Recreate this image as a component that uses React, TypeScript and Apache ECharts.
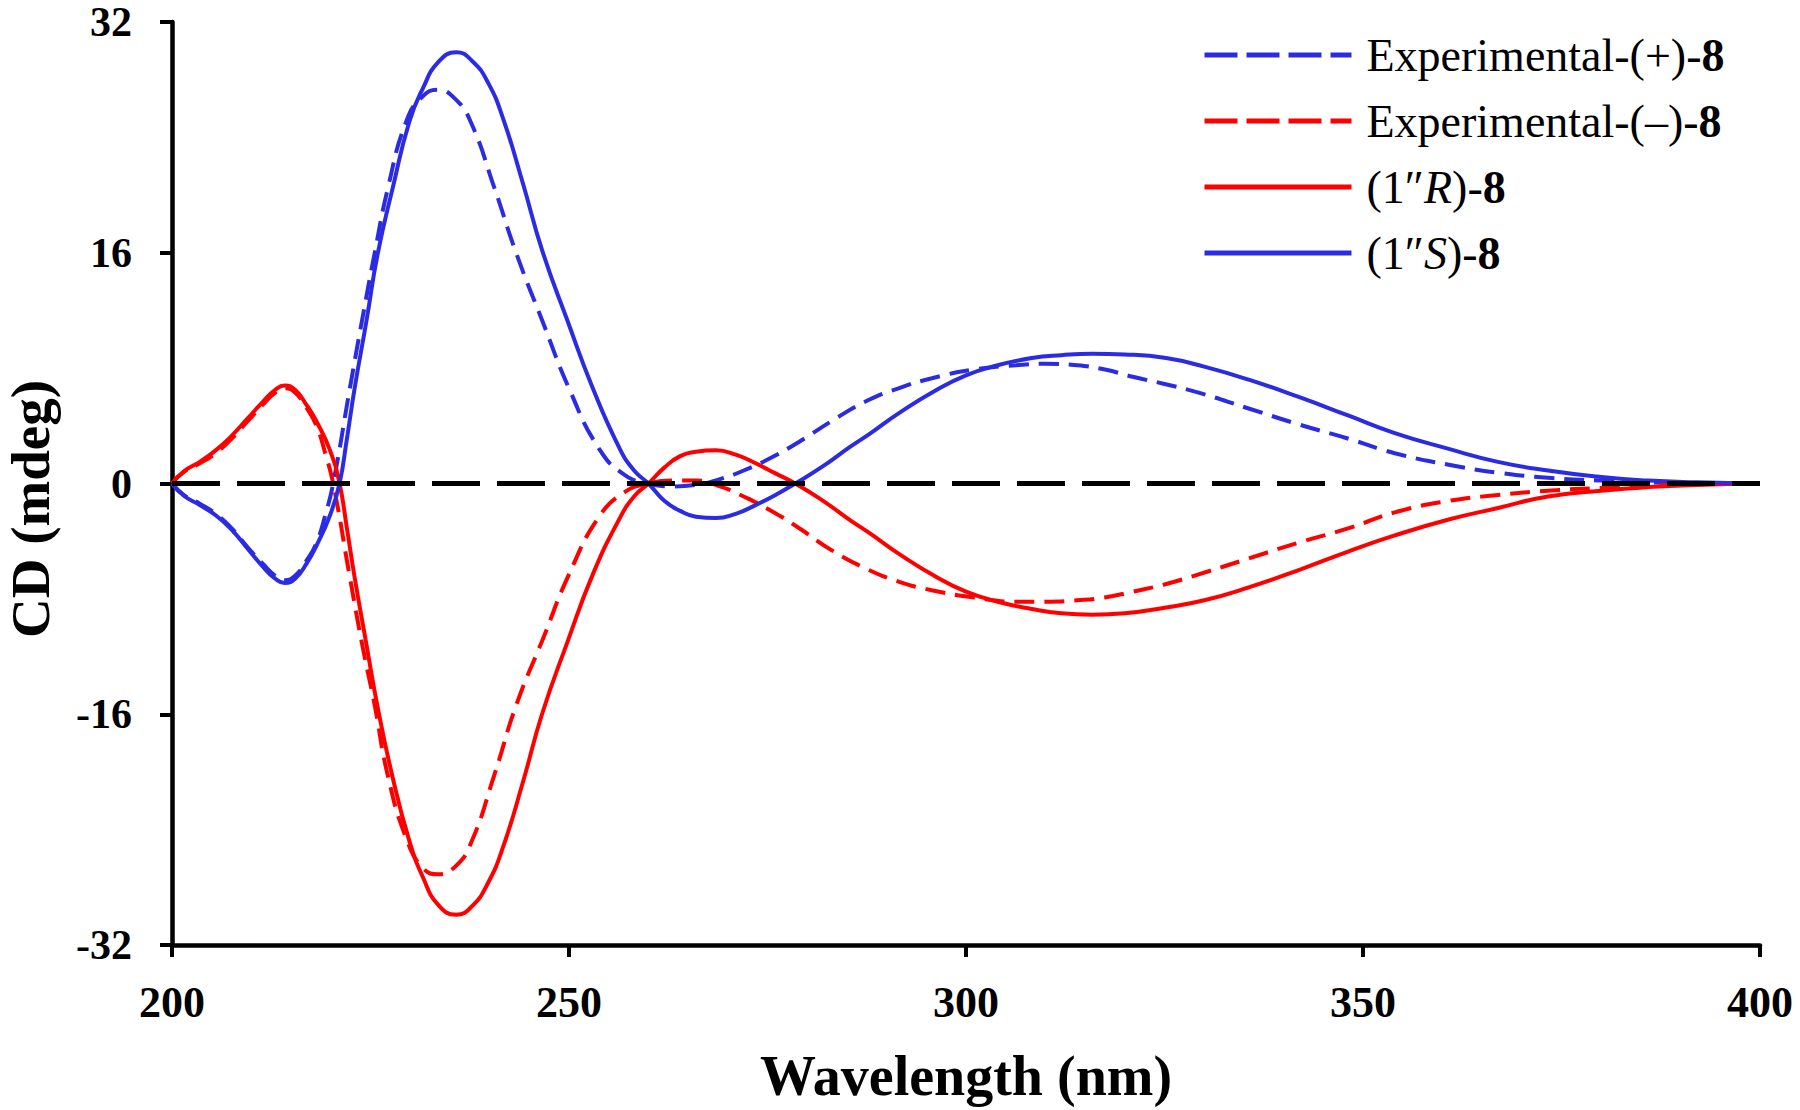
import React, { useEffect, useRef } from "react";
import * as echarts from "echarts";

// Wavelength grids (nm)
const calcNm = [200, 201.5, 203.5, 205.5, 207.5, 209.5, 211.5, 213, 214.2, 215.5, 217, 218.2, 219.9, 221.1, 222, 223, 224.5, 225.9, 227.8, 229.9, 231.6, 233.5, 235.8, 237.8, 239.8, 241.7, 244.2, 246.6, 249.8, 253, 256.4, 258.2, 260, 262, 264, 266, 268.5, 271, 273.5, 276, 278.5, 282, 285.3, 288, 291.6, 296, 300, 304, 308.3, 312, 315.9, 320, 325.2, 330, 335.6, 341.9, 348.2, 354, 360.8, 367, 373.3, 380, 385.9, 392, 400];
const expNm = [200, 201.5, 203.5, 205.5, 207.5, 209.5, 211.5, 213, 214.2, 215.5, 217, 218.2, 219.3, 220.3, 222.4, 224, 225.5, 227.2, 229.5, 231.5, 233.5, 235.6, 237.6, 240.6, 243.4, 246.7, 250, 253.8, 257, 260, 263, 266, 269, 272, 275.5, 279, 283, 287.4, 291.5, 295.7, 301, 306.3, 310, 314, 317.5, 321, 325, 329.3, 335.6, 341.9, 348.2, 354, 360.8, 367, 373.3, 380, 388, 400];

// CD values (mdeg)
const expPlus = [0, -0.8, -1.4, -2.1, -3.1, -4.4, -5.6, -6.4, -6.7, -6.4, -5.3, -4.1, -2.2, 0, 6.6, 11.5, 15.9, 20.5, 25.1, 26.8, 27.3, 26.7, 25.1, 20.5, 15.9, 11.2, 6.6, 2.4, 0.6, 0, -0.2, -0.1, 0.3, 0.9, 1.8, 2.9, 4.3, 5.7, 6.6, 7.3, 7.9, 8.2, 8.3, 8.2, 7.9, 7.4, 6.9, 6.3, 5.2, 4.1, 3.1, 2.1, 1.3, 0.75, 0.4, 0.2, 0.05, 0];
const expMinus = [0, 0.8, 1.4, 2.1, 3.1, 4.3, 5.5, 6.3, 6.6, 6.3, 5.2, 4.0, 2.1, 0, -6.5, -11.3, -15.3, -20.3, -24.6, -26.6, -27.1, -26.6, -25.0, -20.2, -15.3, -10.8, -6.3, -2.3, -0.6, 0, 0.2, 0.2, -0.2, -0.9, -1.9, -3.1, -4.6, -5.9, -6.8, -7.4, -7.9, -8.2, -8.2, -8.1, -7.9, -7.5, -7.0, -6.3, -5.2, -4.1, -3.1, -2.0, -1.2, -0.8, -0.5, -0.3, -0.1, 0];
const calcR = [0, 0.85, 1.5, 2.3, 3.3, 4.5, 5.7, 6.5, 6.8, 6.5, 5.4, 4.3, 2.3, 0, -3.0, -6.5, -11.2, -15.5, -20.4, -24.8, -27.3, -29.2, -29.9, -29.3, -27.7, -25.2, -20.7, -16.0, -11.0, -6.3, -2.4, -0.9, 0, 1.1, 1.9, 2.2, 2.3, 2.0, 1.4, 0.7, 0, -1.2, -2.5, -3.5, -4.9, -6.4, -7.5, -8.2, -8.7, -9.0, -9.1, -9.0, -8.6, -8.1, -7.2, -6.0, -4.7, -3.6, -2.5, -1.7, -0.9, -0.5, -0.25, -0.1, 0];
const calcS = [0, -0.85, -1.5, -2.2, -3.2, -4.5, -5.8, -6.6, -6.9, -6.6, -5.5, -4.3, -2.2, 0, 3.0, 6.6, 11.3, 15.9, 20.5, 25.1, 27.4, 29.2, 29.9, 29.3, 27.8, 25.3, 20.8, 16.2, 11.3, 6.6, 2.4, 0.9, 0, -1.2, -1.9, -2.3, -2.4, -2.1, -1.5, -0.8, 0, 1.2, 2.5, 3.5, 4.9, 6.4, 7.5, 8.2, 8.7, 8.9, 9.0, 8.95, 8.7, 8.1, 7.2, 6.0, 4.7, 3.5, 2.4, 1.5, 0.9, 0.45, 0.2, 0.08, 0];

const zeroNm = [200, 400];
const zeroVal = [0, 0];

const yTicks = [-32, -16, 0, 16, 32];
const xTicks = [200, 250, 300, 350, 400];

const seriesNames = ["Experimental-(+)-8", "Experimental-(\u2013)-8", "(1\u2033R)-8", "(1\u2033S)-8"];
const legendRich: Record<string, string> = {
  "Experimental-(+)-8": "{n|Experimental-(+)-}{b|8}",
  "Experimental-(\u2013)-8": "{n|Experimental-(\u2013)-}{b|8}",
  "(1\u2033R)-8": "{n|(1\u2033}{i|R}{n|)-}{b|8}",
  "(1\u2033S)-8": "{n|(1\u2033}{i|S}{n|)-}{b|8}",
};

const BLUE = "#2b2be3";
const RED = "#ff0000";
const FONT = "'Liberation Serif', 'Times New Roman', serif";

const zip = (xs: number[], ys: number[]) => xs.map((x, i) => [x, ys[i]]);

export default function App() {
  const ref = useRef<HTMLDivElement>(null);
  useEffect(() => {
    document.body.style.margin = "0";
    if (!ref.current) return;
    const chart = echarts.init(ref.current, null, { renderer: "svg" });
    const lineSeries = (name: string, xs: number[], ys: number[], color: string, dashed: boolean) => ({
      name,
      type: "line",
      data: zip(xs, ys),
      showSymbol: false,
      symbol: "none",
      smooth: 0.5,
      lineStyle: { color, width: 4, type: dashed ? [20, 10] : "solid" },
      itemStyle: { color },
      z: 3,
    });
    chart.setOption({
      animation: false,
      backgroundColor: "#ffffff",
      grid: { left: 172, right: 40, top: 22, bottom: 165, containLabel: false },
      legend: {
        orient: "vertical",
        left: 1202,
        top: 32,
        padding: 0,
        itemWidth: 147,
        itemHeight: 20,
        itemGap: 20,
        itemStyle: { opacity: 0 },
        lineStyle: { width: 5 },
        data: [
          { name: seriesNames[0], lineStyle: { type: [33, 9], width: 5 } },
          { name: seriesNames[1], lineStyle: { type: [33, 9], width: 5 } },
          { name: seriesNames[2], lineStyle: { width: 5 } },
          { name: seriesNames[3], lineStyle: { width: 5 } },
        ],
        formatter: (name: string) => legendRich[name] || name,
        textStyle: {
          fontFamily: FONT,
          fontSize: 46,
          color: "#000",
          padding: [0, 0, 0, 10],
          rich: {
            n: { fontFamily: FONT, fontSize: 46, color: "#000", lineHeight: 46 },
            b: { fontFamily: FONT, fontSize: 46, color: "#000", fontWeight: "bold", lineHeight: 46 },
            i: { fontFamily: FONT, fontSize: 46, color: "#000", fontStyle: "italic", lineHeight: 46 },
          },
        },
      },
      xAxis: {
        type: "value",
        min: xTicks[0],
        max: xTicks[xTicks.length - 1],
        interval: 50,
        name: "Wavelength (nm)",
        nameLocation: "middle",
        nameGap: 103,
        nameTextStyle: { fontFamily: FONT, fontSize: 56, fontWeight: "bold", color: "#000" },
        axisLine: { onZero: false, lineStyle: { color: "#000", width: 4.5 } },
        axisTick: { show: true, inside: false, length: 12, lineStyle: { color: "#000", width: 4 } },
        axisLabel: { margin: 35, fontFamily: FONT, fontSize: 44, fontWeight: "bold", color: "#000" },
        splitLine: { show: false },
      },
      yAxis: {
        type: "value",
        min: yTicks[0],
        max: yTicks[yTicks.length - 1],
        interval: 16,
        axisLine: { onZero: false, lineStyle: { color: "#000", width: 4.5 } },
        axisTick: { show: true, inside: false, length: 12, lineStyle: { color: "#000", width: 4 } },
        axisLabel: { margin: 40, fontFamily: FONT, fontSize: 42, lineHeight: 30, fontWeight: "bold", color: "#000" },
        splitLine: { show: false },
      },
      graphic: [
        {
          type: "text",
          x: 30,
          y: 509,
          rotation: Math.PI / 2,
          style: {
            text: "CD (mdeg)",
            fontFamily: FONT,
            fontSize: 55,
            fontWeight: "bold",
            fill: "#000",
            textAlign: "center",
            textVerticalAlign: "middle",
          },
        },
      ],
      series: [
        lineSeries(seriesNames[0], expNm, expPlus, BLUE, true),
        lineSeries(seriesNames[1], expNm, expMinus, RED, true),
        lineSeries(seriesNames[2], calcNm, calcR, RED, false),
        lineSeries(seriesNames[3], calcNm, calcS, BLUE, false),
        {
          name: "zero",
          type: "line",
          data: zip(zeroNm, zeroVal),
          showSymbol: false,
          symbol: "none",
          lineStyle: { color: "#000", width: 5, type: [48, 17] },
          z: 5,
          silent: true,
        },
      ],
    });
    return () => chart.dispose();
  }, []);
  return <div ref={ref} style={{ width: 1800, height: 1110 }} />;
}
